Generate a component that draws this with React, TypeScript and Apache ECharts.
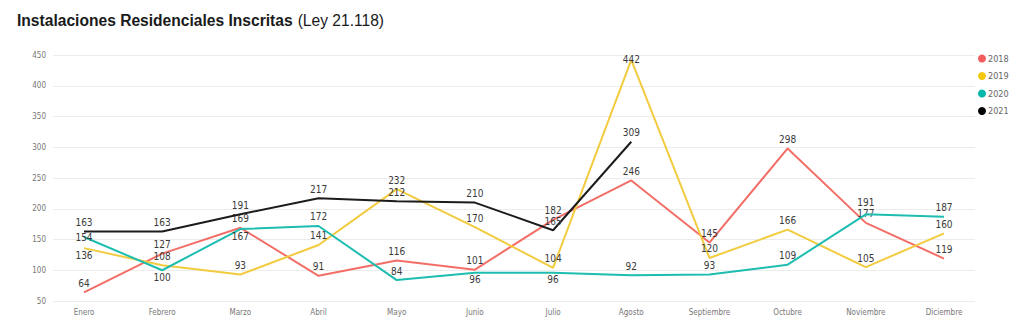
import React, { useEffect, useRef } from "react";
import * as echarts from "echarts";

const months = ["Enero", "Febrero", "Marzo", "Abril", "Mayo", "Junio", "Julio", "Agosto", "Septiembre", "Octubre", "Noviembre", "Diciembre"];
const seriesNames = ["2018", "2019", "2020", "2021"];
const values2018 = [64, 127, 169, 91, 116, 101, 182, 246, 145, 298, 177, 119];
const values2019 = [136, 108, 93, 141, 232, 170, 104, 442, 120, 166, 105, 160];
const values2020 = [154, 100, 167, 172, 84, 96, 96, 92, 93, 109, 191, 187];
const values2021 = [163, 163, 191, 217, 212, 210, 165, 309];
const yTicks = { min: 50, max: 450, interval: 50 };

// label placement (style): t = above, T = further above, b = below, c = centered
const place2018 = "tttttttttttt";
const place2019 = "bttttttctttt";
const place2020 = "cbbttbbttttTt";
const place2021 = "tttttttt";

const lineColors = ["#F26E67", "#F2CB3F", "#1DBDB0", "#1c1c1c"];
const legendColors = ["#F25C5C", "#F2C811", "#01B8AA", "#000000"];
const labelFont = "'DejaVu Sans Condensed', 'Liberation Sans Narrow', Roboto, sans-serif";

function buildData(vals: number[], place: string) {
  return vals.map((v, i) => {
    const p = place[i];
    let label: any;
    if (p === "b") label = { show: true, position: "bottom", distance: 2 };
    else if (p === "c") label = { show: true, position: "inside", offset: [0, 1] };
    else if (p === "T") label = { show: true, position: "top", distance: 7 };
    else label = { show: true, position: "top", distance: 4 };
    return { value: v, label };
  });
}

export default function App() {
  const ref = useRef<HTMLDivElement>(null);
  useEffect(() => {
    if (!ref.current) return;
    const chart = echarts.init(ref.current, null, { renderer: "svg" });
    const allVals = [values2018, values2019, values2020, values2021];
    const places = [place2018, place2019, place2020.slice(0, 12), place2021];
    const fixedPlaces = [places[0], places[1], "cbbttbbttttT".slice(0, 11) + "T", places[3]];
    const usePlaces = [places[0], places[1], "cbbttbbtttTt", places[3]];
    void fixedPlaces;
    const series: any[] = allVals.map((vals, k) => ({
      name: seriesNames[k],
      type: "line",
      xAxisIndex: 0,
      yAxisIndex: 0,
      data: buildData(vals, usePlaces[k]),
      showSymbol: true,
      symbol: "circle",
      symbolSize: 0.1,
      lineStyle: { width: 2, color: lineColors[k] },
      itemStyle: { color: legendColors[k] },
      label: {
        show: true,
        fontSize: 10,
        color: "#3a3a3a",
        fontFamily: labelFont,
      },
      labelLayout: { hideOverlap: false },
      z: 2 + k,
    }));
    chart.setOption({
      animation: false,
      backgroundColor: "#fff",
      title: {
        left: 12,
        top: 6,
        text: "{b|Instalaciones Residenciales Inscritas} {n|(Ley 21.118)}",
        textStyle: {
          rich: {
            b: { fontFamily: "'Liberation Sans', Arial, sans-serif", fontWeight: "bold", fontSize: 15.6, color: "#1a1a1a" },
            n: { fontFamily: "'Liberation Sans', Arial, sans-serif", fontWeight: "normal", fontSize: 15.6, color: "#1a1a1a" },
          },
        },
      },
      legend: {
        orient: "vertical",
        left: 973,
        top: 49,
        icon: "circle",
        itemWidth: 8,
        itemHeight: 8,
        itemGap: 8.5,
        data: seriesNames.map((n, k) => ({ name: n, itemStyle: { color: legendColors[k] } })),
        textStyle: { fontSize: 9, color: "#666", fontFamily: labelFont, padding: [0, 0, 0, -3] },
      },
      grid: [
        { left: 84, right: 80, top: 55, bottom: 33 },
        { left: 53, right: 49, top: 55, bottom: 33 },
      ],
      xAxis: [
        {
          type: "category",
          gridIndex: 0,
          data: months,
          boundaryGap: false,
          axisLine: { show: false },
          axisTick: { show: false },
          axisLabel: { fontSize: 8, color: "#777", margin: 7, fontFamily: labelFont },
        },
        { type: "value", gridIndex: 1, min: 0, max: 1, show: false },
      ],
      yAxis: [
        { type: "value", gridIndex: 0, min: yTicks.min, max: yTicks.max, interval: yTicks.interval, show: false },
        {
          type: "value",
          gridIndex: 1,
          min: yTicks.min,
          max: yTicks.max,
          interval: yTicks.interval,
          axisLine: { show: false },
          axisTick: { show: false },
          axisLabel: { fontSize: 8, color: "#777", margin: 7, fontFamily: labelFont },
          splitLine: { lineStyle: { color: "#ececec", width: 1 } },
        },
      ],
      series,
    });
    return () => chart.dispose();
  }, []);
  return <div ref={ref} style={{ width: 1024, height: 334, position: "absolute", left: 0, top: 0 }} />;
}
